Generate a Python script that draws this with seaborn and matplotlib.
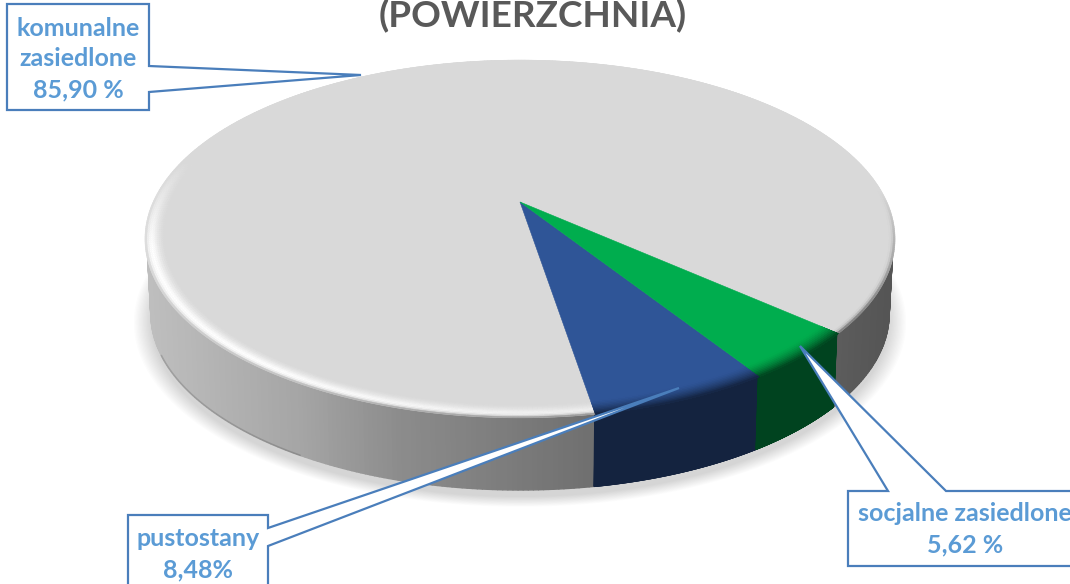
import numpy as np
import matplotlib
matplotlib.use('Agg')
import matplotlib.pyplot as plt
from matplotlib.collections import PolyCollection
import seaborn as sns

categories = ['komunalne zasiedlone', 'pustostany', 'socjalne zasiedlone']
label_text = ['komunalne\nzasiedlone\n85,90 %', 'pustostany\n8,48%', 'socjalne zasiedlone\n5,62 %']
slice_shares = [89.14, 6.47, 4.39]
title_text = '(POWIERZCHNIA)'

top_colors = ['#d9d9d9', '#2f5597', '#00ad4e']
side_colors = [None, '#14233f', '#00431f']

sns.set_theme(style='white')
plt.rcParams['font.family'] = ['Lato', 'DejaVu Sans']

CX, CY, A, B, K = 520, 202, 367, 171.3, 0.2067
BASE_CY, BASE_S = 277.5, 0.984
BEVEL = 0.95
LABEL_BLUE = '#5b9bd5'
LINE_BLUE = '#4a7ebb'


def project(theta, r=1.0, cy=CY, s=1.0):
    t = np.radians(theta)
    u, v = r * np.cos(t), r * np.sin(t)
    w = 1 + K * v
    return CX + s * A * u / w, cy - s * B * v / w


def to_rgb(c):
    return np.array(matplotlib.colors.to_rgb(c))


def gray_side(x):
    g = np.interp(x, [150, 200, 300, 400, 590, 840, 890], [190, 182, 165, 140, 112, 92, 85])
    return np.array([g, g, g]) / 255


def highlight(theta):
    t = theta % 360
    up = np.interp(t, [165, 195], [0, 1])
    down = np.interp(t, [235, 282, 290], [1, 0.55, 0])
    return up * down


def edge_visible(theta):
    return np.clip(0.1 - np.sin(np.radians(theta)) * 1.5, 0, 1)


def bevel_color(f, theta, idx, x):
    top = to_rgb(top_colors[idx])
    side = gray_side(x) if idx == 0 else to_rgb(side_colors[idx])
    vis = edge_visible(theta)
    edge = top + (side - top) * vis
    if idx == 0:
        h = highlight(theta)
        light = top + (np.array([1, 1, 1]) - top) * h
        if f < 0.6:
            return top + (light - top) * (f / 0.6) ** 1.5
        return light + (edge - light) * ((f - 0.6) / 0.4) ** 3
    return top + (edge - top) * f ** 1.5


def draw_shadow(ax):
    th = np.linspace(0, 360, 361)
    for i in range(14):
        x, y = project(th, 1.0, BASE_CY + 7, BASE_S + 0.0035 * i)
        ax.fill(x, y, color='black', alpha=0.01, lw=0, zorder=1)


def draw_side(ax, wedge, idx):
    th = np.linspace(wedge.theta1, wedge.theta2, 500)
    polys, cols = [], []
    for a, b in zip(th[:-1], th[1:]):
        # the back of the disc is hidden behind its top
        if np.sin(np.radians(a)) > 0.1:
            continue
        x1, y1 = project(np.array([a, b]), 0.995)
        x2, y2 = project(np.array([b, a]), cy=BASE_CY, s=BASE_S)
        polys.append(np.column_stack([np.r_[x1, x2], np.r_[y1, y2]]))
        cols.append(gray_side(x1.mean()) if idx == 0 else to_rgb(side_colors[idx]))
    ax.add_collection(PolyCollection(polys, facecolors=cols, edgecolors=cols, linewidths=1.0, zorder=2))


def draw_top(ax, wedge, idx):
    th = np.linspace(wedge.theta1, wedge.theta2, 500)
    x, y = project(th, 0.999)
    ax.fill(np.r_[CX, x], np.r_[CY, y], color=top_colors[idx], lw=0.4, zorder=3)
    # rounded edge of the disc
    rs = np.linspace(BEVEL, 1.0, 11)
    polys, cols = [], []
    for a, b in zip(th[:-1], th[1:]):
        for r1, r2 in zip(rs[:-1], rs[1:]):
            x1, y1 = project(np.array([a, b]), r1)
            x2, y2 = project(np.array([b, a]), r2)
            polys.append(np.column_stack([np.r_[x1, x2], np.r_[y1, y2]]))
            f = ((r1 + r2) / 2 - BEVEL) / (1 - BEVEL)
            cols.append(bevel_color(f, (a + b) / 2, idx, x1.mean()))
    ax.add_collection(PolyCollection(polys, facecolors=cols, edgecolors=cols, linewidths=0.3, zorder=4))


def callout(ax, xs, ys):
    ax.fill(xs, ys, facecolor='white', edgecolor=LINE_BLUE, lw=1.6, joinstyle='miter',
            closed=True, zorder=6, clip_on=True)


fig = plt.figure(figsize=(10.7, 5.84), dpi=100)
ax = fig.add_axes([0, 0, 1, 1])
wedges, _ = ax.pie(slice_shares, startangle=-41.5, colors=top_colors)
for w in wedges:
    w.set_visible(False)
ax.set_aspect('auto')
ax.set_xlim(0, 1070)
ax.set_ylim(584, 0)
ax.axis('off')

draw_shadow(ax)
for i, w in enumerate(wedges):
    draw_side(ax, w, i)
# darker lower edge of the disc on the left
edge_x, edge_y = project(np.linspace(205, 240, 100), cy=BASE_CY, s=BASE_S)
ax.plot(edge_x, edge_y, color='black', alpha=0.15, lw=1.2, zorder=2.5)
for i, w in enumerate(wedges):
    draw_top(ax, w, i)

callout(ax, [7, 149, 149, 361, 149, 149, 7], [4, 4, 66, 75, 92, 110, 110])
callout(ax, [128, 268, 268, 679, 268, 268, 128], [515, 515, 528, 388, 546, 600, 600])
callout(ax, [848, 888, 800, 946, 1090, 1090, 848], [491, 491, 346, 491, 491, 566, 566])

ax.text(533, 27.5, title_text, ha='center', va='baseline', fontsize=26.6, fontweight='bold',
        color='#595959', zorder=7)

text_style = dict(ha='center', va='center', fontsize=18, fontweight='bold', color=LABEL_BLUE,
                  linespacing=1.42, zorder=7)
ax.text(78, 59, label_text[0], **text_style)
ax.text(198, 554, label_text[1], **text_style)
ax.text(965, 529, label_text[2], **text_style)

fig.savefig('out.png', dpi=100, facecolor='white')
